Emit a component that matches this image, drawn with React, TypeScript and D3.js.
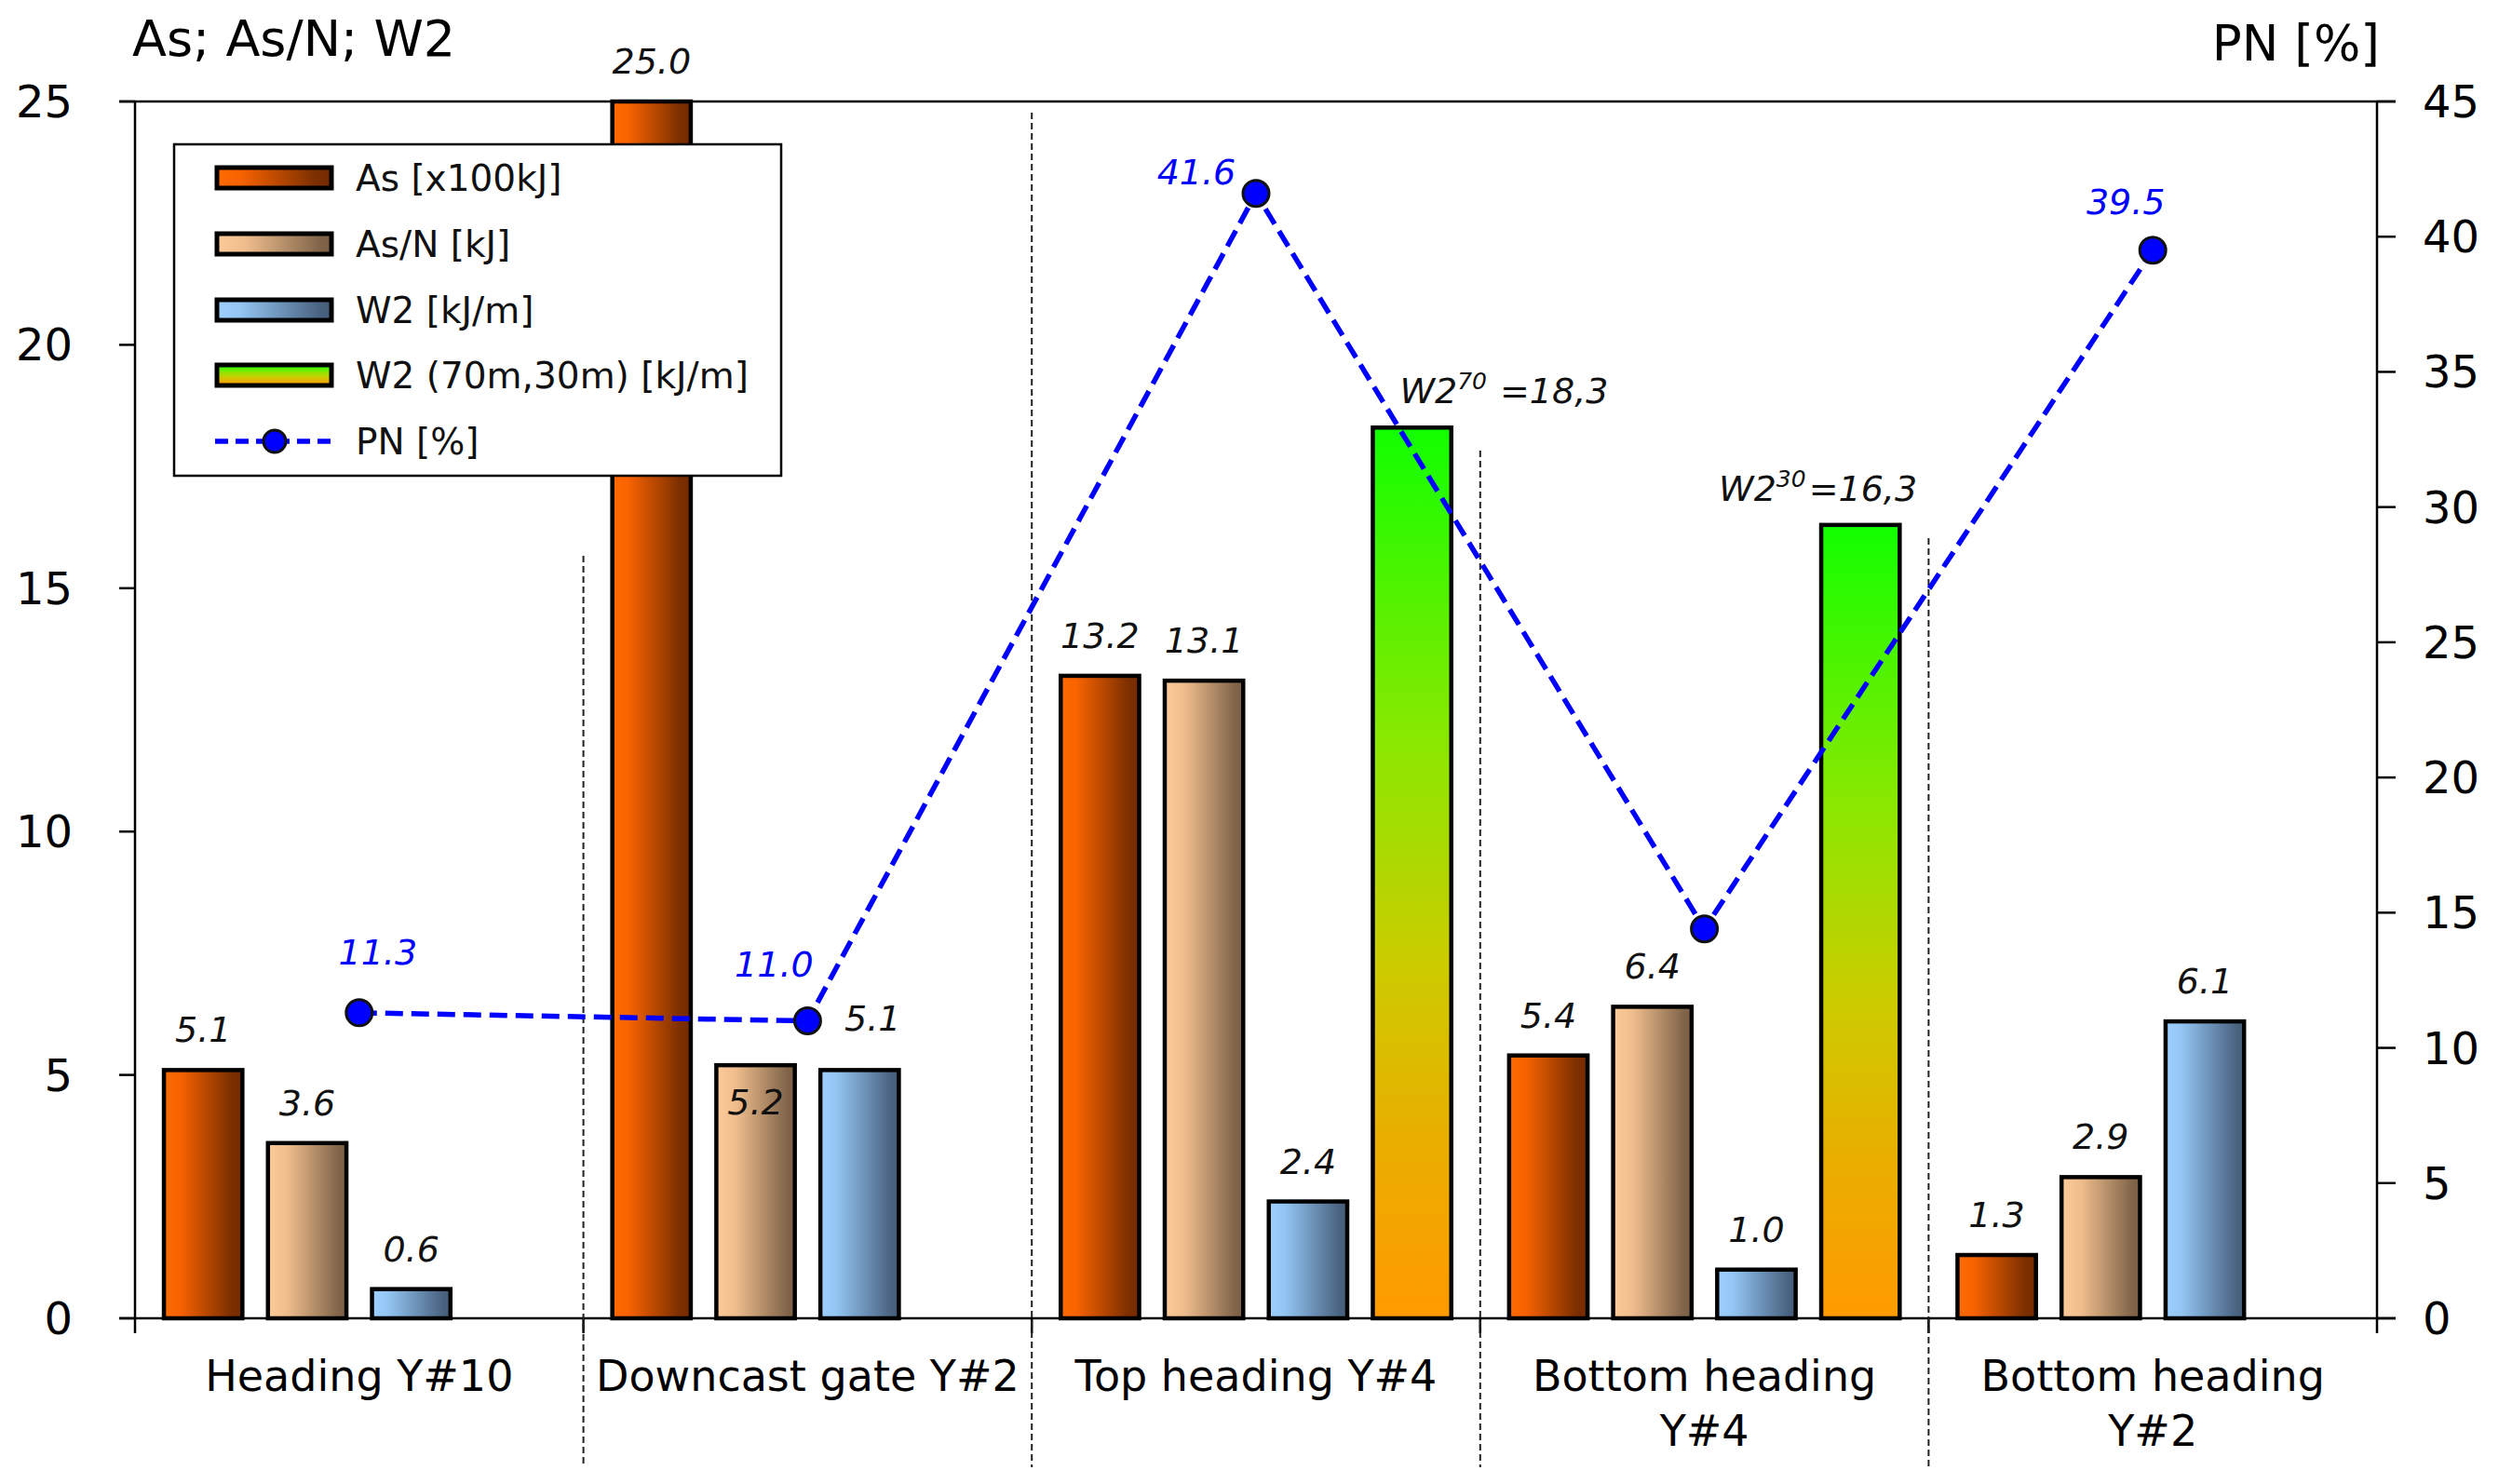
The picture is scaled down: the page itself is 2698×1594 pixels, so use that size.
import { useEffect, useRef } from 'react';
import * as d3 from 'd3';

// categories (a "\n" splits the axis label into two lines)
const categories = [
  'Heading Y#10',
  'Downcast gate Y#2',
  'Top heading Y#4',
  'Bottom heading\nY#4',
  'Bottom heading\nY#2',
];

// bar series (left axis)
const seriesAs = [5.1, 25.0, 13.2, 5.4, 1.3];
const seriesAsN = [3.6, 5.2, 13.1, 6.4, 2.9];
const seriesW2 = [0.6, 5.1, 2.4, 1.0, 6.1];
const seriesW2Far: (number | null)[] = [null, null, 18.3, 16.3, null];

// line series (right axis)
const seriesPN = [11.3, 11.0, 41.6, 14.4, 39.5];

// W2 at 70m / 30m annotations
const w2FarSup = ['', '', '70', '30', ''];
const w2FarText = ['', '', '=18,3', '=16,3', ''];

const leftTicks = [0, 5, 10, 15, 20, 25];
const rightTicks = [0, 5, 10, 15, 20, 25, 30, 35, 40, 45];

const legendNames = ['As [x100kJ]', 'As/N [kJ]', 'W2 [kJ/m]', 'W2 (70m,30m) [kJ/m]', 'PN [%]'];

const FONT = '"DejaVu Sans", Verdana, sans-serif';

export default function App() {
  const svgRef = useRef<SVGSVGElement>(null);

  useEffect(() => {
    const svg = d3.select(svgRef.current);
    svg.selectAll('*').remove();

    const W = 2698;
    const H = 1594;
    const left = 145, right = 2553, top = 109, bottom = 1416;

    const x = d3.scaleBand<string>().domain(categories).range([left, right]);
    const xs = d3.scaleBand<number>()
      .domain([0, 1, 2, 3])
      .range([0, x.bandwidth()])
      .paddingInner(0.21)
      .paddingOuter(0.26);
    const yL = d3.scaleLinear().domain([0, 25]).range([bottom, top]);
    const yR = d3.scaleLinear().domain([0, 45]).range([bottom, top]);

    svg.append('rect').attr('width', W).attr('height', H).attr('fill', '#fff');

    // gradients
    const defs = svg.append('defs');
    const hGrad = (id: string, stops: [number, string][]) => {
      const g = defs.append('linearGradient').attr('id', id)
        .attr('x1', '0%').attr('y1', '0%').attr('x2', '100%').attr('y2', '0%');
      stops.forEach(([o, c]) => g.append('stop').attr('offset', o).attr('stop-color', c));
    };
    hGrad('g-as', [[0, '#ff6a00'], [0.2, '#f96300'], [0.85, '#7e3000'], [1, '#742a00']]);
    hGrad('g-asn', [[0, '#fdcb98'], [0.25, '#efbd8c'], [0.9, '#80654a'], [1, '#7a5f46']]);
    hGrad('g-w2', [[0, '#9dd0ff'], [0.2, '#93c6f3'], [0.9, '#4a6381'], [1, '#465d78']]);
    const vg = defs.append('linearGradient').attr('id', 'g-far')
      .attr('x1', '0%').attr('y1', '0%').attr('x2', '0%').attr('y2', '100%');
    [[0, '#11ff00'], [0.35, '#8ae800'], [0.6, '#cccc00'], [0.8, '#e9ae00'], [1, '#ff9a00']]
      .forEach(([o, c]) => vg.append('stop').attr('offset', o as number).attr('stop-color', c as string));

    const fills = ['url(#g-as)', 'url(#g-asn)', 'url(#g-w2)', 'url(#g-far)'];
    const allSeries: (number | null)[][] = [seriesAs, seriesAsN, seriesW2, seriesW2Far];

    // frame: top border, bottom axis, left & right axes
    const frame = svg.append('g').attr('stroke', '#000').attr('stroke-width', 2.5);
    frame.append('line').attr('x1', left - 17).attr('x2', right + 20).attr('y1', top).attr('y2', top);
    frame.append('line').attr('x1', left - 17).attr('x2', right + 20).attr('y1', bottom).attr('y2', bottom);
    frame.append('line').attr('x1', left).attr('x2', left).attr('y1', top).attr('y2', bottom + 16);
    frame.append('line').attr('x1', right).attr('x2', right).attr('y1', top).attr('y2', bottom + 16);

    // left ticks
    leftTicks.forEach(t => {
      frame.append('line').attr('x1', left - 17).attr('x2', left).attr('y1', yL(t)).attr('y2', yL(t));
      svg.append('text').attr('x', 78).attr('y', yL(t) + 17)
        .attr('text-anchor', 'end').attr('font-family', FONT).attr('font-size', 48).text(t);
    });
    // right ticks
    rightTicks.forEach(t => {
      frame.append('line').attr('x1', right).attr('x2', right + 20).attr('y1', yR(t)).attr('y2', yR(t));
      svg.append('text').attr('x', 2602).attr('y', yR(t) + 17)
        .attr('font-family', FONT).attr('font-size', 48).text(t);
    });
    // category boundary ticks
    categories.slice(1).forEach(c => {
      frame.append('line').attr('x1', x(c)!).attr('x2', x(c)!).attr('y1', bottom).attr('y2', bottom + 16);
    });

    // dashed separators between categories
    const sepTops = [597, 121, 484, 578];
    categories.slice(1).forEach((c, i) => {
      svg.append('line').attr('x1', x(c)!).attr('x2', x(c)!)
        .attr('y1', sepTops[i]).attr('y2', 1576)
        .attr('stroke', '#222').attr('stroke-width', 2).attr('stroke-dasharray', '7 4');
    });

    // axis titles
    svg.append('text').attr('x', 142).attr('y', 60).attr('font-family', FONT).attr('font-size', 54)
      .text('As; As/N; W2');
    svg.append('text').attr('x', 2556).attr('y', 65).attr('text-anchor', 'end')
      .attr('font-family', FONT).attr('font-size', 53).text('PN [%]');

    // category labels
    categories.forEach(c => {
      const t = svg.append('text').attr('x', x(c)! + x.bandwidth() / 2).attr('y', 1494)
        .attr('text-anchor', 'middle').attr('font-family', FONT).attr('font-size', 46);
      c.split('\n').forEach((line, i) => {
        t.append('tspan').attr('x', x(c)! + x.bandwidth() / 2).attr('dy', i === 0 ? 0 : 59).text(line);
      });
    });

    // bars
    const bars = svg.append('g');
    allSeries.forEach((series, s) => {
      series.forEach((v, i) => {
        if (v == null) return;
        const bx = x(categories[i])! + xs(s)!;
        bars.append('rect')
          .attr('x', bx + 2).attr('width', xs.bandwidth() - 4)
          .attr('y', yL(v)).attr('height', bottom - yL(v))
          .attr('fill', fills[s]).attr('stroke', '#000').attr('stroke-width', 4.5);
      });
    });

    // bar value labels (first three series)
    const barLabelNudge: Record<string, [number, number]> = { '1-1': [0, 83], '2-1': [14, -12] };
    [seriesAs, seriesAsN, seriesW2].forEach((series, s) => {
      series.forEach((v, i) => {
        const [dx, dy] = barLabelNudge[`${s}-${i}`] || [0, 0];
        const cx = x(categories[i])! + xs(s)! + xs.bandwidth() / 2;
        svg.append('text').attr('x', cx + dx).attr('y', yL(v) - 30 + dy)
          .attr('text-anchor', 'middle').attr('font-family', FONT).attr('font-style', 'italic')
          .attr('font-size', 38).attr('fill', '#111').text(d3.format('.1f')(v));
      });
    });

    // W2 (70m,30m) annotations
    const farLabelDx = [0, 0, 31, -108, 0];
    seriesW2Far.forEach((v, i) => {
      if (v == null) return;
      const bx = x(categories[i])! + xs(3)!;
      const t = svg.append('text').attr('x', bx + farLabelDx[i]).attr('y', yL(v) - 26)
        .attr('font-family', FONT).attr('font-style', 'italic').attr('font-size', 38).attr('fill', '#111');
      t.append('tspan').text('W2');
      t.append('tspan').attr('font-size', 25).attr('dy', -15).text(w2FarSup[i]);
      t.append('tspan').attr('dy', 15).attr('dx', i === 2 ? 14 : 3).text(w2FarText[i]);
    });

    // PN line
    const cxOf = (i: number) => x(categories[i])! + x.bandwidth() / 2;
    const line = d3.line<number>().x((_, i) => cxOf(i)).y(d => yR(d));
    svg.append('path').datum(seriesPN).attr('d', line)
      .attr('fill', 'none').attr('stroke', '#0000ff').attr('stroke-width', 5.5)
      .attr('stroke-dasharray', '19 9');
    seriesPN.forEach((v, i) => {
      svg.append('circle').attr('cx', cxOf(i)).attr('cy', yR(v)).attr('r', 14)
        .attr('fill', '#0000ff').attr('stroke', '#111').attr('stroke-width', 3);
    });
    const pnLabelNudge: ([number, number] | null)[] = [[20, -52], [-36, -48], [-64, -10], null, [-29, -39]];
    seriesPN.forEach((v, i) => {
      const n = pnLabelNudge[i];
      if (!n) return;
      svg.append('text').attr('x', cxOf(i) + n[0]).attr('y', yR(v) + n[1])
        .attr('text-anchor', 'middle').attr('font-family', FONT).attr('font-style', 'italic')
        .attr('font-size', 38).attr('fill', '#0000ff').text(d3.format('.1f')(v));
    });

    // legend
    const lg = svg.append('g');
    lg.append('rect').attr('x', 187).attr('y', 155).attr('width', 652).attr('height', 356)
      .attr('fill', '#fff').attr('stroke', '#000').attr('stroke-width', 2.5);
    const rows = [191, 262, 333, 403, 474];
    legendNames.forEach((name, i) => {
      const ry = rows[i];
      if (i < 4) {
        lg.append('rect').attr('x', 233).attr('y', ry - 11).attr('width', 123).attr('height', 22)
          .attr('fill', fills[i]).attr('stroke', '#000').attr('stroke-width', 5);
      } else {
        lg.append('line').attr('x1', 231).attr('x2', 358).attr('y1', ry).attr('y2', ry)
          .attr('stroke', '#0000ff').attr('stroke-width', 5.5).attr('stroke-dasharray', '14 8');
        lg.append('circle').attr('cx', 295).attr('cy', ry).attr('r', 12)
          .attr('fill', '#0000ff').attr('stroke', '#111').attr('stroke-width', 3);
      }
      lg.append('text').attr('x', 382).attr('y', ry + 14).attr('font-family', FONT)
        .attr('font-size', 39).attr('fill', '#111').text(name);
    });
  }, []);

  return (
    <svg
      ref={svgRef}
      width={2698}
      height={1594}
      style={{ position: 'absolute', left: 0, top: 0 }}
    />
  );
}
